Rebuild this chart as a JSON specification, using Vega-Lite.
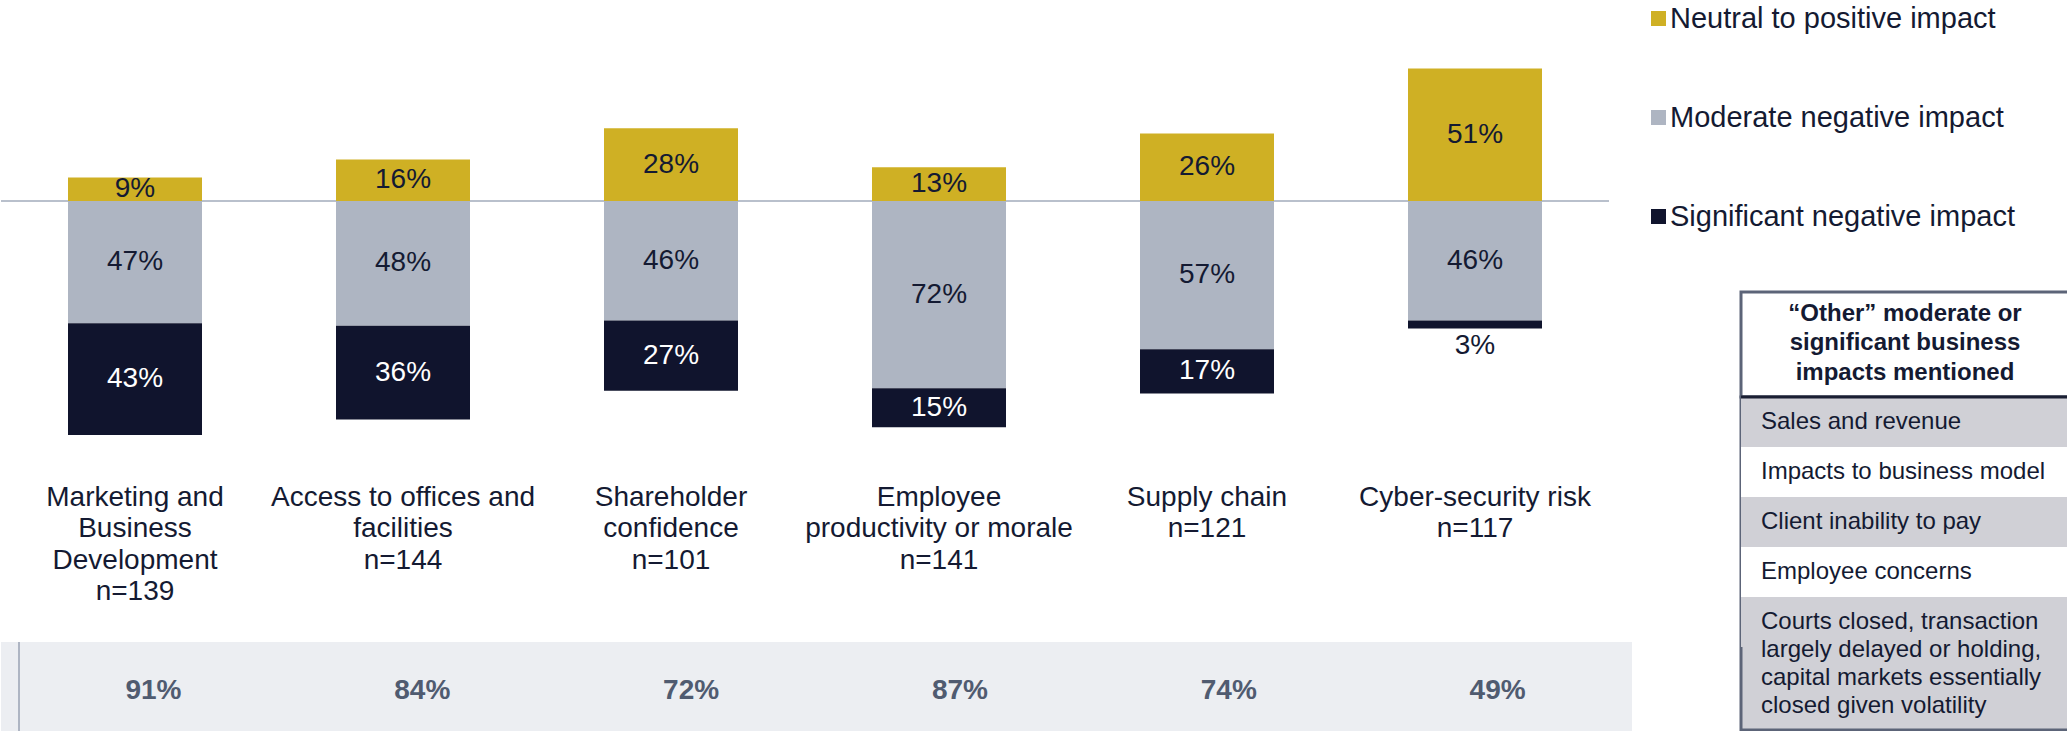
{
  "$schema": "https://vega.github.io/schema/vega-lite/v6.json",
  "padding": 0,
  "background": "#ffffff",
  "config": {"font": "Liberation Sans", "view": {"stroke": null}},
  "datasets": {
    "impacts": [
      {"cat": "Marketing and Business Development", "impact": "Neutral to positive impact", "share": 0.09},
      {"cat": "Marketing and Business Development", "impact": "Moderate negative impact", "share": 0.47},
      {"cat": "Marketing and Business Development", "impact": "Significant negative impact", "share": 0.43},
      {"cat": "Access to offices and facilities", "impact": "Neutral to positive impact", "share": 0.16},
      {"cat": "Access to offices and facilities", "impact": "Moderate negative impact", "share": 0.48},
      {"cat": "Access to offices and facilities", "impact": "Significant negative impact", "share": 0.36},
      {"cat": "Shareholder confidence", "impact": "Neutral to positive impact", "share": 0.28},
      {"cat": "Shareholder confidence", "impact": "Moderate negative impact", "share": 0.46},
      {"cat": "Shareholder confidence", "impact": "Significant negative impact", "share": 0.27},
      {"cat": "Employee productivity or morale", "impact": "Neutral to positive impact", "share": 0.13},
      {"cat": "Employee productivity or morale", "impact": "Moderate negative impact", "share": 0.72},
      {"cat": "Employee productivity or morale", "impact": "Significant negative impact", "share": 0.15},
      {"cat": "Supply chain", "impact": "Neutral to positive impact", "share": 0.26},
      {"cat": "Supply chain", "impact": "Moderate negative impact", "share": 0.57},
      {"cat": "Supply chain", "impact": "Significant negative impact", "share": 0.17},
      {"cat": "Cyber-security risk", "impact": "Neutral to positive impact", "share": 0.51},
      {"cat": "Cyber-security risk", "impact": "Moderate negative impact", "share": 0.46},
      {"cat": "Cyber-security risk", "impact": "Significant negative impact", "share": 0.03}
    ],
    "categories": [
      {"cat": "Marketing and Business Development", "label": "Marketing and\nBusiness\nDevelopment\nn=139", "negative": 0.91},
      {"cat": "Access to offices and facilities", "label": "Access to offices and\nfacilities\nn=144", "negative": 0.84},
      {"cat": "Shareholder confidence", "label": "Shareholder\nconfidence\nn=101", "negative": 0.72},
      {"cat": "Employee productivity or morale", "label": "Employee\nproductivity or morale\nn=141", "negative": 0.87},
      {"cat": "Supply chain", "label": "Supply chain\nn=121", "negative": 0.74},
      {"cat": "Cyber-security risk", "label": "Cyber-security risk\nn=117", "negative": 0.49}
    ],
    "header": [
      {"text": "“Other” moderate or\nsignificant business\nimpacts mentioned"}
    ],
    "items": [
      {"row": 1, "item": "Sales and revenue"},
      {"row": 2, "item": "Impacts to business model"},
      {"row": 3, "item": "Client inability to pay"},
      {"row": 4, "item": "Employee concerns"},
      {"row": 5, "item": "Courts closed, transaction\nlargely delayed or holding,\ncapital markets essentially\nclosed given volatility"}
    ]
  },
  "hconcat": [
    {
      "spacing": 0,
      "bounds": "flush",
      "vconcat": [
        {
          "width": 1608,
          "height": 642,
          "layer": [
            {
              "layer": [
                {
                  "data": {"values": [{}]},
                  "mark": {"type": "rule", "color": "#b9c0cc", "strokeWidth": 2},
                  "encoding": {"y": {"datum": 0, "type": "quantitative", "axis": null, "scale": {"domain": [-1.69615, 0.77308], "nice": false, "zero": false}}}
                },
                {
                  "data": {"name": "impacts"},
                  "transform": [{"filter": "datum.impact === 'Neutral to positive impact'"}],
                  "mark": {"type": "bar"},
                  "encoding": {
                    "x": {"field": "cat", "type": "nominal", "sort": null, "axis": null, "scale": {"paddingInner": 0.5, "paddingOuter": 0.25}},
                    "y": {"field": "share", "type": "quantitative", "stack": "zero", "axis": null},
                    "color": {"field": "impact", "type": "nominal", "scale": {"domain": ["Neutral to positive impact", "Moderate negative impact", "Significant negative impact"], "range": ["#cfb024", "#aeb5c2", "#10142d"]}, "legend": {"title": null, "orient": "none", "legendX": 1643, "legendY": 4, "direction": "vertical", "symbolType": "square", "symbolSize": 225, "symbolStrokeWidth": 0, "labelFontSize": 29, "labelColor": "#141a32", "labelOffset": -3, "rowPadding": 69, "labelLimit": 600, "padding": 0}}
                  }
                },
                {
                  "data": {"name": "impacts"},
                  "transform": [{"filter": "datum.impact === 'Neutral to positive impact'"}],
                  "mark": {"type": "text", "fontSize": 28, "baseline": "middle", "color": "#141a32"},
                  "encoding": {
                    "x": {"field": "cat", "type": "nominal", "sort": null, "axis": null},
                    "y": {"field": "share", "type": "quantitative", "stack": "zero", "bandPosition": 0.5, "axis": null},
                    "detail": {"field": "impact"},
                    "text": {"field": "share", "type": "quantitative", "format": ".0%"}
                  }
                }
              ]
            },
            {
              "layer": [
                {
                  "data": {"name": "impacts"},
                  "transform": [{"filter": "datum.impact !== 'Neutral to positive impact'"}],
                  "mark": {"type": "bar"},
                  "encoding": {
                    "x": {"field": "cat", "type": "nominal", "sort": null, "axis": null},
                    "y": {"field": "share", "type": "quantitative", "stack": "zero", "axis": null, "scale": {"domain": [-0.77308, 1.69615], "reverse": true, "nice": false, "zero": false}},
                    "order": {"field": "impact", "sort": "ascending"},
                    "color": {"field": "impact", "type": "nominal", "scale": {"domain": ["Neutral to positive impact", "Moderate negative impact", "Significant negative impact"], "range": ["#cfb024", "#aeb5c2", "#10142d"]}, "legend": {"title": null, "orient": "none", "legendX": 1643, "legendY": 4, "direction": "vertical", "symbolType": "square", "symbolSize": 225, "symbolStrokeWidth": 0, "labelFontSize": 29, "labelColor": "#141a32", "labelOffset": -3, "rowPadding": 69, "labelLimit": 600, "padding": 0}}
                  }
                },
                {
                  "data": {"name": "impacts"},
                  "transform": [{"filter": "datum.impact !== 'Neutral to positive impact'"}],
                  "mark": {"type": "text", "fontSize": 28, "baseline": "middle"},
                  "encoding": {
                    "x": {"field": "cat", "type": "nominal", "sort": null, "axis": null},
                    "y": {"field": "share", "type": "quantitative", "stack": "zero", "bandPosition": 0.5, "axis": null},
                    "order": {"field": "impact", "sort": "ascending"},
                    "detail": {"field": "impact"},
                    "text": {"condition": {"test": "datum.share >= 0.05", "field": "share", "type": "quantitative", "format": ".0%"}, "value": ""},
                    "color": {"condition": {"test": "datum.impact === 'Significant negative impact'", "value": "#ffffff"}, "value": "#141a32"}
                  }
                },
                {
                  "data": {"name": "impacts"},
                  "transform": [{"filter": "datum.impact !== 'Neutral to positive impact'"}],
                  "mark": {"type": "text", "fontSize": 28, "baseline": "middle", "dy": 18, "color": "#141a32"},
                  "encoding": {
                    "x": {"field": "cat", "type": "nominal", "sort": null, "axis": null},
                    "y": {"field": "share", "type": "quantitative", "stack": "zero", "axis": null},
                    "order": {"field": "impact", "sort": "ascending"},
                    "detail": {"field": "impact"},
                    "text": {"condition": {"test": "datum.share < 0.05", "field": "share", "type": "quantitative", "format": ".0%"}, "value": ""}
                  }
                },
                {
                  "data": {"name": "categories"},
                  "mark": {"type": "text", "fontSize": 28, "baseline": "top", "lineBreak": "\n", "lineHeight": 31.3, "color": "#141a32"},
                  "encoding": {
                    "x": {"field": "cat", "type": "nominal", "sort": null, "axis": null},
                    "y": {"datum": 1.0885, "type": "quantitative", "axis": null},
                    "text": {"field": "label", "type": "nominal"}
                  }
                }
              ]
            }
          ],
          "resolve": {"scale": {"y": "independent"}}
        },
        {
          "width": 1631,
          "height": 89,
          "view": {"fill": "#eceef2", "stroke": null},
          "data": {"name": "categories"},
          "layer": [
            {
              "transform": [{"filter": {"field": "cat", "equal": "Marketing and Business Development"}}],
              "mark": {"type": "rule", "color": "#aeb5c3", "strokeWidth": 2},
              "encoding": {"x": {"field": "cat", "type": "nominal", "sort": null, "bandPosition": 0, "axis": null}}
            },
            {
              "mark": {"type": "text", "fontSize": 28, "fontWeight": "bold", "color": "#505b70", "baseline": "middle", "dy": 4},
              "encoding": {
                "x": {"field": "cat", "type": "nominal", "sort": null, "axis": null, "scale": {"paddingInner": 0, "paddingOuter": 0.0335, "align": 1}},
                "text": {"field": "negative", "type": "quantitative", "format": ".0%"}
              }
            }
          ]
        }
      ]
    },
    {
      "spacing": 0,
      "bounds": "flush",
      "vconcat": [
        {
          "width": 328,
          "height": 292,
          "data": {"values": []},
          "mark": "rect",
          "encoding": {}
        },
        {
          "width": 328,
          "height": 105,
          "view": {"fill": "#ffffff", "stroke": "#5c6478", "strokeWidth": 3},
          "data": {"name": "header"},
          "mark": {"type": "text", "fontSize": 24, "fontWeight": "bold", "lineBreak": "\n", "lineHeight": 29.5, "color": "#141a32", "baseline": "middle", "align": "center", "dy": -31},
          "encoding": {"text": {"field": "text", "type": "nominal"}}
        },
        {
          "width": 328,
          "height": 333,
          "view": {"fill": "#d0d0d6", "stroke": "#5c6478", "strokeWidth": 3},
          "data": {"name": "items"},
          "layer": [
            {
              "mark": {"type": "rect"},
              "encoding": {
                "y": {"field": "item", "type": "nominal", "sort": null, "axis": null, "scale": {"paddingInner": 0, "paddingOuter": 0.83, "align": 0}},
                "color": {"condition": {"test": "datum.row % 2 === 0", "value": "#ffffff"}, "value": "#d0d0d6"}
              }
            },
            {
              "mark": {"type": "text", "fontSize": 24, "align": "left", "dx": -144, "baseline": "middle", "color": "#141a32"},
              "encoding": {
                "y": {"field": "item", "type": "nominal", "sort": null, "axis": null},
                "text": {"condition": {"test": "datum.row <= 4", "field": "item", "type": "nominal"}, "value": ""}
              }
            },
            {
              "mark": {"type": "text", "fontSize": 24, "align": "left", "dx": -144, "dy": -42, "baseline": "middle", "lineBreak": "\n", "lineHeight": 28, "color": "#141a32"},
              "encoding": {
                "y": {"field": "item", "type": "nominal", "sort": null, "bandPosition": 1.33, "axis": null},
                "text": {"condition": {"test": "datum.row === 5", "field": "item", "type": "nominal"}, "value": ""}
              }
            },
            {
              "data": {"values": [{}]},
              "mark": {"type": "rule", "color": "#1a1f33", "strokeWidth": 3},
              "encoding": {"y": {"datum": "Sales and revenue", "type": "nominal", "bandPosition": 0, "axis": null}}
            }
          ]
        }
      ]
    }
  ],
  "spacing": 106,
  "bounds": "full"
}
